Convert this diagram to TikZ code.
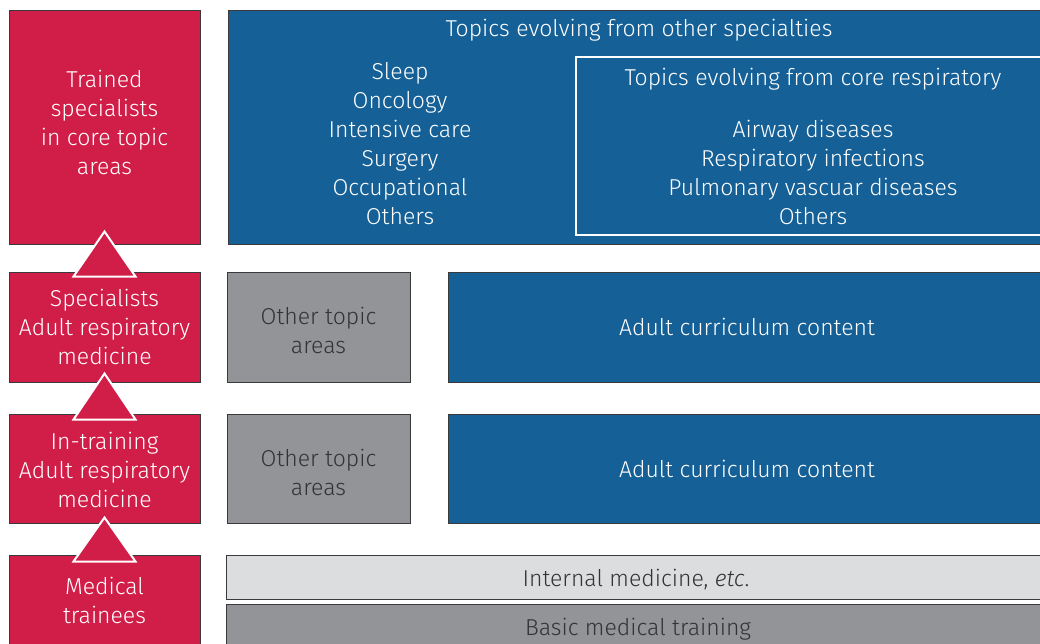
\documentclass[tikz,border=0pt]{standalone}
\usepackage{fontspec}
\setmainfont{Fira Sans Light}[ItalicFont={Fira Sans Light Italic}]
\usetikzlibrary{calc}
\definecolor{ersred}{HTML}{D11E48}
\definecolor{ersblue}{HTML}{156096}
\definecolor{ersgrey}{HTML}{939498}
\definecolor{erslight}{HTML}{DCDDDF}
\definecolor{edgecol}{HTML}{3A3A3C}
\definecolor{darktext}{HTML}{333333}
\newcommand\figfont{\fontsize{23}{29}\selectfont}
\begin{document}
\begin{tikzpicture}[x=1pt,y=-1pt,
  box/.style={draw=edgecol, line width=1pt, rectangle, inner sep=0pt, align=center, font=\figfont},
  redbox/.style={box, fill=ersred, text=white, minimum width=191},
  bluebox/.style={box, fill=ersblue, text=white},
  greybox/.style={box, fill=ersgrey, text=darktext},
  lightbox/.style={box, fill=erslight, text=darktext},
  plain/.style={inner sep=0pt, align=center, font=\figfont, text=white},
  darkplain/.style={plain, text=darktext},
  tri/.style={fill=ersred, draw=white, line width=2pt, line join=miter}]
\useasboundingbox (0,0) rectangle (1040,643);
\fill[white] (0,0) rectangle (1040,643);
\clip (0,0) rectangle (1040,643);

% left column
\node[redbox, minimum height=234] (r1) at (104.5,127) {};
\node[plain] (r1t) at (104.5,122) {Trained\\specialists\\in core topic\\areas};
\node[redbox, minimum height=110] (r2) at (104.5,327) {Specialists\\Adult respiratory\\medicine};
\node[redbox, minimum height=109] (r3) at (104.5,468.5) {};
\node[plain] (r3t) at (104.5,470) {In-training\\Adult respiratory\\medicine};
\node[redbox, minimum height=90] (r4) at (104.5,600) {};
\node[plain] (r4t) at (104.5,600) {Medical\\trainees};

% top blue
\node[bluebox, minimum width=822, minimum height=234] (b1) at (639,127) {};
\node[plain] (t1) at (639,30) {Topics evolving from other specialties};
\node[plain] (ol) at (400,144) {Sleep\\Oncology\\Intensive care\\Surgery\\Occupational\\Others};
\node[box, draw=white, line width=1.2pt, minimum width=474, minimum height=178] (w1) at (813,146) {};
\node[plain] (w1t) at (813,146)
  {Topics evolving from core respiratory\\[23pt]Airway diseases\\Respiratory infections\\Pulmonary vascuar diseases\\Others};

% rows 2 and 3
\node[greybox, minimum width=183, minimum height=110] (g2) at (318.5,327) {};
\node[darkplain] (g2t) at (318.5,330.5) {Other topic\\areas};
\node[bluebox, minimum width=598, minimum height=110] (a2) at (747,327) {Adult curriculum content};
\node[greybox, minimum width=183, minimum height=109] (g3) at (318.5,468.5) {};
\node[darkplain] (g3t) at (318.5,472.5) {Other topic\\areas};
\node[bluebox, minimum width=598, minimum height=109] (a3) at (747,468.5) {Adult curriculum content};

% bottom row
\node[lightbox, minimum width=820, minimum height=44] (l4) at (636,577) {};
\node[darkplain] (l4t) at (636,580) {Internal medicine, \textit{etc}.};
\node[greybox, minimum width=824, minimum height=46] (d4) at (638,627) {};
\node[darkplain] (d4t) at (638,629) {Basic medical training};

% triangles
\filldraw[tri] ($(r2.north)+(-31,5)$) -- ($(r1.south)+(0,-13)$) -- ($(r2.north)+(31,5)$) -- cycle;
\filldraw[tri] ($(r3.north)+(-31,6)$) -- ($(r2.south)+(0,-9)$) -- ($(r3.north)+(31,6)$) -- cycle;
\filldraw[tri] ($(r4.north)+(-31,7)$) -- ($(r3.south)+(0,-6)$) -- ($(r4.north)+(31,7)$) -- cycle;
\end{tikzpicture}
\end{document}
